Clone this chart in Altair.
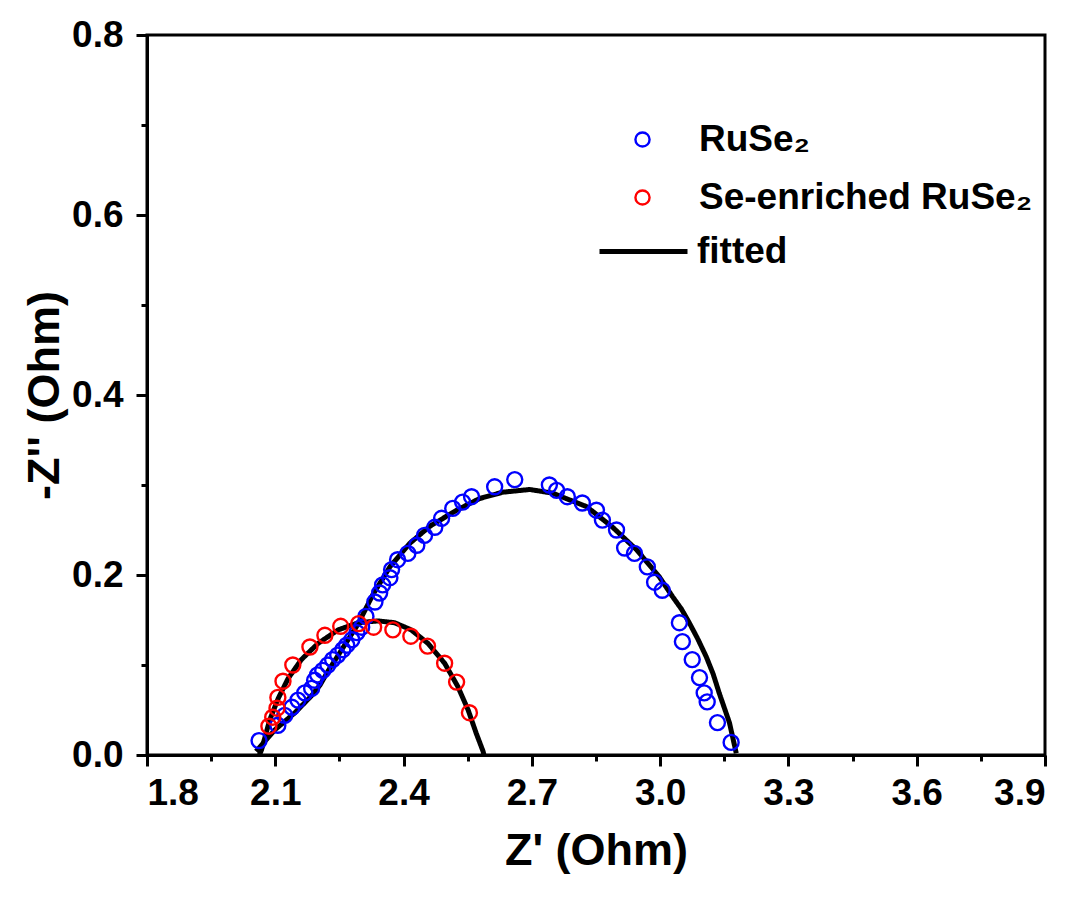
import altair as alt
import pandas as pd

# ---- data ----
ruse2_x = [2.062, 2.106, 2.122, 2.139, 2.153, 2.169, 2.185, 2.192, 2.199, 2.211, 2.223, 2.234,
           2.246, 2.258, 2.267, 2.279, 2.291, 2.302, 2.312, 2.333, 2.344, 2.351, 2.368, 2.372,
           2.386, 2.410, 2.431, 2.449, 2.473, 2.489, 2.515, 2.538, 2.559, 2.613, 2.660, 2.741,
           2.758, 2.783, 2.818, 2.851, 2.865, 2.898, 2.917, 2.940, 2.970, 2.987, 3.005, 3.045,
           3.052, 3.075, 3.092, 3.103, 3.110, 3.134, 3.166]
ruse2_y = [0.016, 0.033, 0.044, 0.053, 0.061, 0.069, 0.074, 0.083, 0.089, 0.094, 0.100, 0.106,
           0.111, 0.117, 0.122, 0.128, 0.136, 0.142, 0.154, 0.170, 0.180, 0.189, 0.197, 0.206,
           0.217, 0.224, 0.233, 0.244, 0.253, 0.263, 0.274, 0.281, 0.287, 0.298, 0.306, 0.300,
           0.294, 0.287, 0.280, 0.272, 0.261, 0.250, 0.230, 0.224, 0.209, 0.192, 0.183, 0.147,
           0.126, 0.106, 0.086, 0.069, 0.059, 0.036, 0.014]

se_x = [2.085, 2.094, 2.104, 2.106, 2.118, 2.141, 2.181, 2.216, 2.253, 2.295, 2.330, 2.375,
        2.417, 2.456, 2.496, 2.524, 2.554]
se_y = [0.032, 0.042, 0.052, 0.064, 0.082, 0.100, 0.120, 0.133, 0.143, 0.146, 0.142, 0.139,
        0.132, 0.121, 0.102, 0.081, 0.047]

fit_ruse2_x = [2.055, 2.099, 2.146, 2.185, 2.205, 2.223, 2.242, 2.262, 2.293, 2.328, 2.368,
               2.414, 2.461, 2.524, 2.578, 2.632, 2.695, 2.748, 2.828, 2.889, 2.945, 2.998,
               3.029, 3.050, 3.068, 3.088, 3.108, 3.124, 3.138, 3.162, 3.178]
fit_ruse2_y = [0.004, 0.028, 0.047, 0.066, 0.078, 0.093, 0.107, 0.122, 0.145, 0.178, 0.209,
               0.235, 0.254, 0.272, 0.285, 0.292, 0.295, 0.291, 0.276, 0.253, 0.228, 0.198,
               0.176, 0.162, 0.147, 0.129, 0.109, 0.090, 0.069, 0.036, 0.002]

fit_se_x = [2.063, 2.068, 2.087, 2.107, 2.130, 2.161, 2.200, 2.247, 2.294, 2.340, 2.379, 2.418,
            2.457, 2.496, 2.527, 2.551, 2.570, 2.586, 2.588]
fit_se_y = [0.000, 0.006, 0.039, 0.063, 0.085, 0.106, 0.124, 0.139, 0.147, 0.149, 0.147, 0.139,
            0.124, 0.102, 0.076, 0.050, 0.024, 0.004, 0.000]

series_names = ["RuSe\u2082", "Se-enriched RuSe\u2082"]
series_colors = ["#0000FF", "#FF0000"]
fit_label = "fitted"

x_ticks = [1.8, 1.95, 2.1, 2.25, 2.4, 2.55, 2.7, 2.85, 3.0, 3.15, 3.3, 3.45, 3.6, 3.75, 3.9]
y_ticks = [0.0, 0.1, 0.2, 0.3, 0.4, 0.5, 0.6, 0.7, 0.8]

# ---- tables ----
pts = pd.DataFrame({
    "x": ruse2_x + se_x,
    "y": ruse2_y + se_y,
    "series": [series_names[0]] * len(ruse2_x) + [series_names[1]] * len(se_x),
})
fits = pd.DataFrame({
    "x": fit_ruse2_x + fit_se_x,
    "y": fit_ruse2_y + fit_se_y,
    "fit": ["a"] * len(fit_ruse2_x) + ["b"] * len(fit_se_x),
    "i": list(range(len(fit_ruse2_x))) + list(range(len(fit_se_x))),
    "kind": [fit_label] * (len(fit_ruse2_x) + len(fit_se_x)),
})

FONT = "Liberation Sans"
LEG_FS = 37
TICK_FS = 37
TITLE_FS = 45

x_enc = alt.X("x:Q", scale=alt.Scale(domain=[1.8, 3.9], nice=False, zero=False),
              axis=alt.Axis(values=x_ticks, title="Z' (Ohm)",
                            labelExpr="round(datum.value*20)%6==0 ? format(datum.value,'.1f') : ''",
                            tickSize={"condition": {"test": "round(datum.value*20)%6==0", "value": 11}, "value": 6},
                            labelPadding=9, titlePadding=17))
y_enc = alt.Y("y:Q", scale=alt.Scale(domain=[0, 0.8], nice=False),
              axis=alt.Axis(values=y_ticks, title="-Z'' (Ohm)",
                            labelExpr="round(datum.value*10)%2==0 ? format(datum.value,'.1f') : ''",
                            tickSize={"condition": {"test": "round(datum.value*10)%2==0", "value": 11}, "value": 6},
                            labelPadding=13, titlePadding=4))

points = alt.Chart(pts).mark_point(shape="circle", filled=False, size=225, strokeWidth=2.4,
                                   opacity=1).encode(
    x=x_enc, y=y_enc,
    color=alt.Color("series:N", scale=alt.Scale(domain=series_names, range=series_colors),
                    legend=alt.Legend(title=None, orient="none", legendX=477, legendY=86,
                                      symbolType="circle", symbolSize=200, symbolStrokeWidth=2.4,
                                      symbolFillColor="transparent", symbolOpacity=1,
                                      labelOffset=38, rowPadding=20, padding=0,
                                      labelFont=FONT, labelFontSize=LEG_FS, labelFontWeight="bold",
                                      labelColor="black", labelLimit=600)),
)

lines = alt.Chart(fits).mark_line(color="black", strokeWidth=5).encode(
    x="x:Q", y="y:Q",
    detail="fit:N",
    order="i:Q",
    strokeDash=alt.StrokeDash("kind:N", scale=alt.Scale(domain=[fit_label], range=[[1, 0]]),
                              legend=alt.Legend(title=None, orient="none", legendX=450, legendY=170,
                                                symbolType="stroke", symbolSize=7744,
                                                symbolStrokeWidth=5, symbolStrokeColor="black",
                                                labelOffset=7, padding=0,
                                                labelFont=FONT, labelFontSize=LEG_FS, labelFontWeight="bold",
                                                labelColor="black")),
)

chart = alt.layer(lines, points).properties(
    width=898, height=720,
    autosize=alt.AutoSizeParams(type="none"),
    padding={"left": 147, "top": 35, "right": 35, "bottom": 150},
    background="white",
).configure_view(stroke="black", strokeWidth=3).configure_axis(
    domainColor="black", domainWidth=3, tickColor="black", tickWidth=3,
    labelFont=FONT, labelFontSize=TICK_FS, labelFontWeight="bold", labelColor="black",
    titleFont=FONT, titleFontSize=TITLE_FS, titleFontWeight="bold", titleColor="black",
    grid=False,
)

chart.save("out.html", embed_options={"renderer": "svg", "actions": False})
